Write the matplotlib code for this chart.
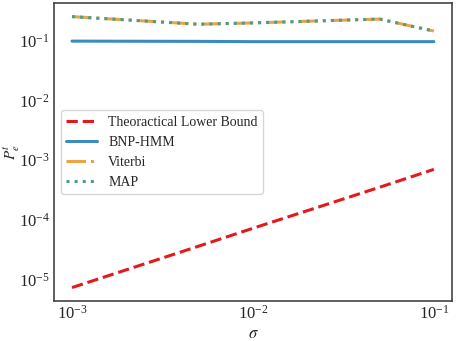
import numpy as np
import matplotlib
matplotlib.use("Agg")
import matplotlib.pyplot as plt
import seaborn as sns

sns.set_style("white")
plt.rcParams['font.family'] = ['Liberation Serif', 'DejaVu Serif']
plt.rcParams['mathtext.fontset'] = 'stix'

# values
sigma = [0.001, 0.005, 0.01, 0.05, 0.1]
lower_bound = [7.3e-6, 3.6e-5, 7.2e-5, 3.5e-4, 7.0e-4]
bnp_hmm = [0.099, 0.098, 0.097, 0.097, 0.097]
viterbi = [0.255, 0.19, 0.2, 0.232, 0.146]
map_est = [0.255, 0.19, 0.2, 0.232, 0.146]

fig = plt.figure(figsize=(4.57, 3.41), dpi=100)
ax = fig.add_axes([0.118, 0.117, 0.871, 0.874])

ax.plot(sigma, lower_bound, color='#e31a1c', ls='--', lw=2.2, label='Theoractical Lower Bound')
ax.plot(sigma, bnp_hmm, color='#3b8bc2', ls='-', lw=2.2, label='BNP-HMM')
ax.plot(sigma, viterbi, color='#eaa444', ls='-.', lw=2.2, label='Viterbi')
ax.plot(sigma, map_est, color='#4f9c8c', ls=':', lw=2.2, label='MAP')

ax.set_xscale('log')
ax.set_yscale('log')
ax.set_xlabel(r'$\sigma$', fontsize=12)
ax.set_ylabel(r'$P_e^t$', fontsize=11)
ax.xaxis.set_label_coords(0.5, -0.085)
ax.yaxis.set_label_coords(-0.08, 0.5)
ax.tick_params(labelsize=12, length=0, pad=3)
for s in ax.spines.values():
    s.set_color('#444444')
    s.set_linewidth(1.2)

ax.legend(loc='center left', fontsize=10, handlelength=2.2)

fig.savefig('out.png', dpi=100)
